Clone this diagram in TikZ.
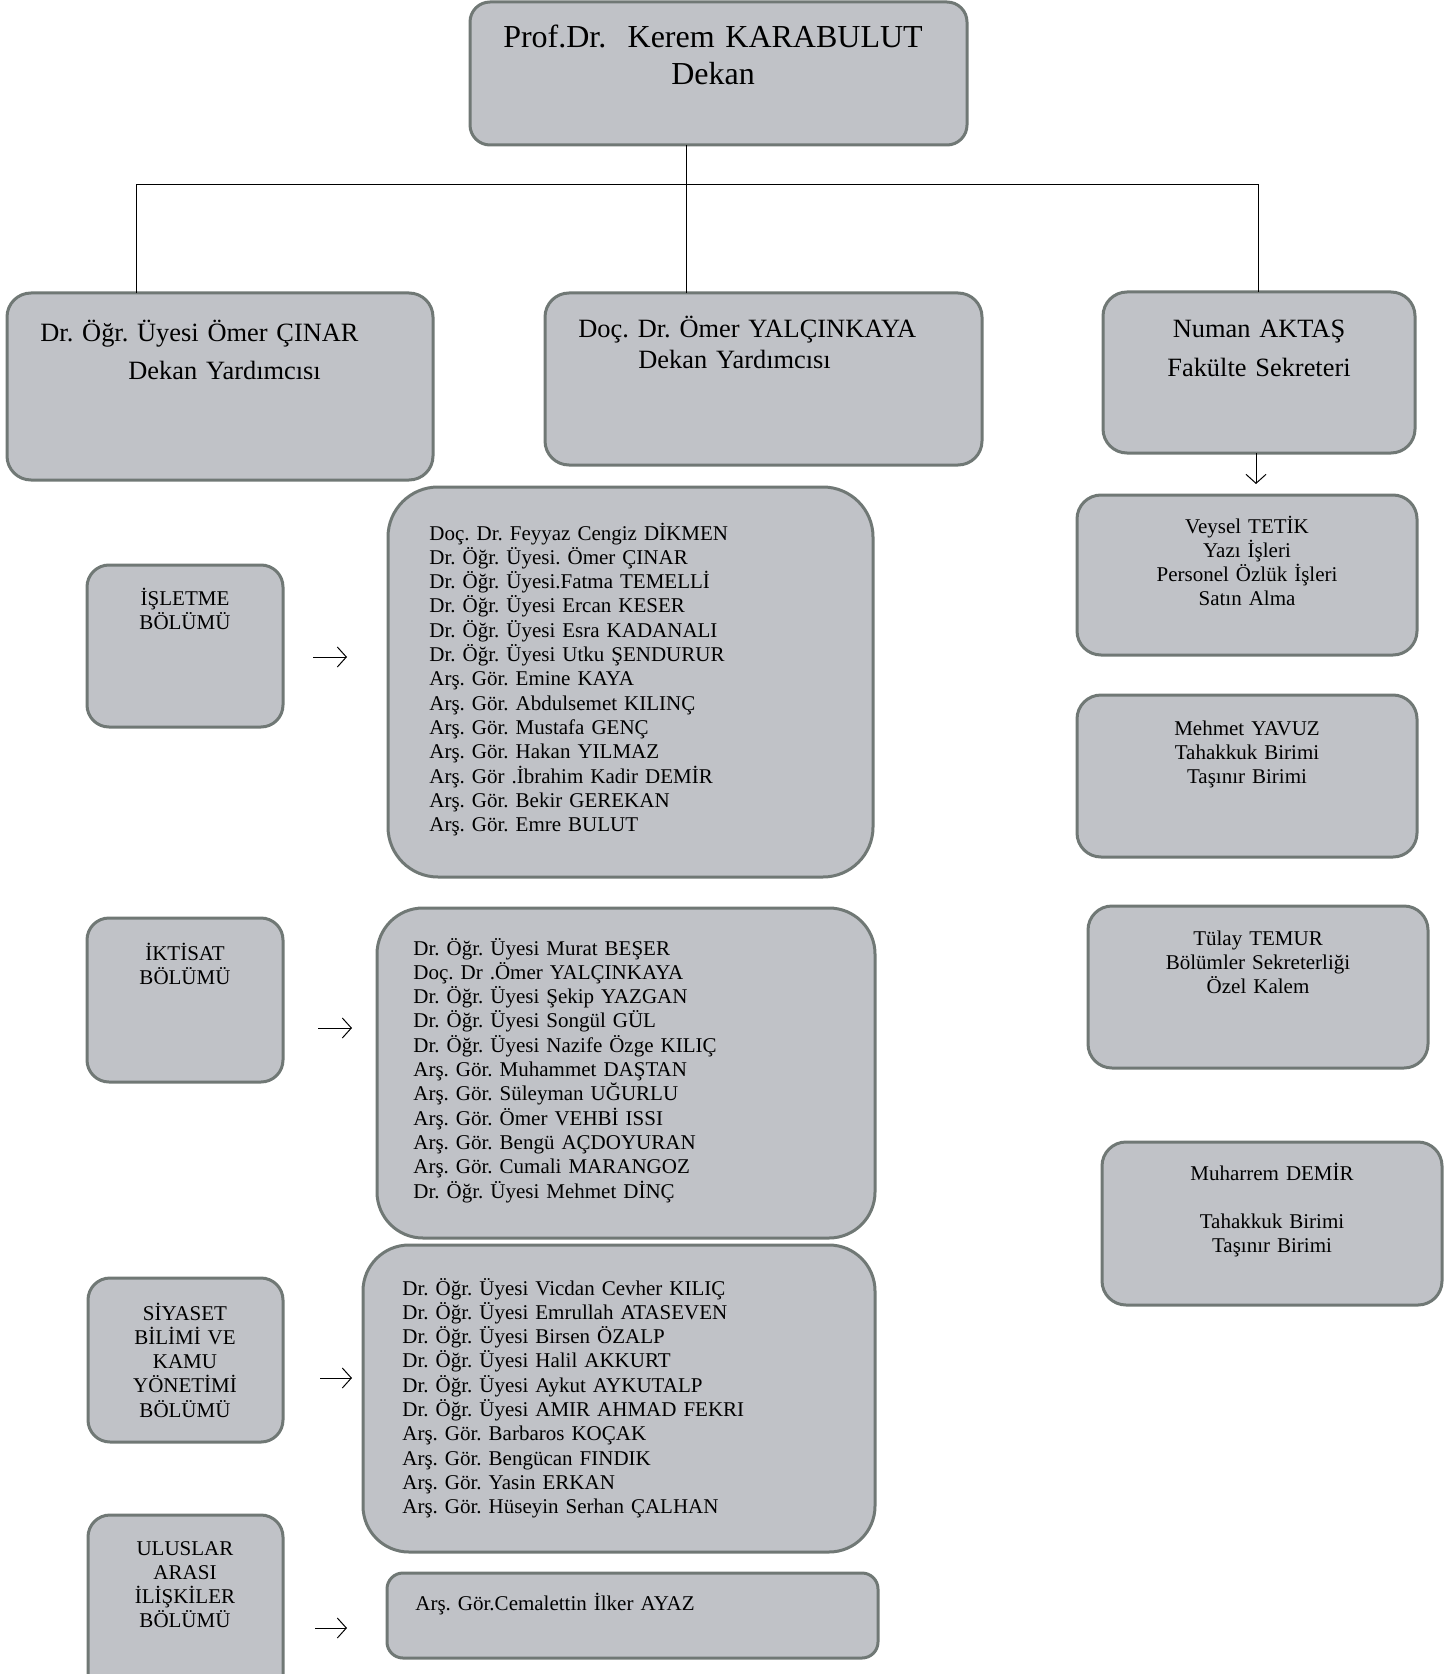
\documentclass[tikz,border=0pt]{standalone}
\usepackage{fontspec}
\setmainfont{Liberation Serif}
\usetikzlibrary{arrows.meta,calc}
\definecolor{bxfill}{RGB}{192,194,199}
\definecolor{bxline}{RGB}{112,120,117}
\newcommand\mkbox[6]{\node[box,#6,anchor=north west,minimum width={(#3-#1)*0.5pt},minimum height={(#4-#2)*0.5pt}] (#5) at (#1,#2) {};}
\frenchspacing
\begin{document}
\frenchspacing
\begin{tikzpicture}[x=0.5pt,y=-0.5pt,
  box/.style={draw=bxline, fill=bxfill, line width=1.5pt, inner sep=0pt, outer sep=0pt},
  lst/.style={font=\fontsize{10.5}{12.15}\selectfont\frenchspacing, align=left, anchor=base west, inner sep=0pt, text width=260pt},
  ctr/.style={font=\fontsize{10.5}{12.15}\selectfont\frenchspacing, align=center, anchor=base, inner sep=0pt, text width=170pt},
  conn/.style={line width=0.5pt, black},
  arr/.style={conn, -{Straight Barb[length=4.5pt,width=10pt]}}]
\useasboundingbox (0,0) rectangle (1450,1674);

\coordinate (jl) at (136,185);
\coordinate (jm) at (686,185);
\coordinate (jr) at (1258,185);

% boxes
\mkbox{470}{2}{967}{145}{dean}{rounded corners=10pt}
\mkbox{7}{293}{433}{480}{lft}{rounded corners=12pt}
\mkbox{545}{293}{982}{465}{mid}{rounded corners=12pt}
\mkbox{1103}{292}{1415}{453}{rgt}{rounded corners=12pt}
\mkbox{1077}{495}{1417}{655}{veysel}{rounded corners=12pt}
\mkbox{1077}{695}{1417}{857}{mehmet}{rounded corners=12pt}
\mkbox{1088}{906}{1428}{1068}{tulay}{rounded corners=12pt}
\mkbox{1102}{1142}{1442}{1305}{muharrem}{rounded corners=12pt}
\mkbox{87}{565}{283}{727}{isl}{rounded corners=11pt}
\mkbox{87}{918}{283}{1082}{ikt}{rounded corners=11pt}
\mkbox{88}{1278}{283}{1442}{siy}{rounded corners=11pt}
\mkbox{88}{1515}{283}{1700}{ulu}{rounded corners=11pt}
\mkbox{388}{487}{873}{877}{isllist}{rounded corners=25pt}
\mkbox{377}{908}{875}{1238}{iktlist}{rounded corners=23pt}
\mkbox{363}{1245}{875}{1552}{siylist}{rounded corners=23pt}
\mkbox{387}{1573}{878}{1658}{ululist}{rounded corners=8pt}

\draw[conn] (jm |- dean.south) -- (jm |- mid.north);
\draw[conn] (jl |- lft.north) -- (jl) -- (jr) -- (jr |- rgt.north);

% texts
\node[font=\fontsize{16}{18.5}\selectfont\frenchspacing, align=center, text width=260pt, anchor=base, inner sep=0pt] (deant) at (713,48) {Prof.Dr.\ \ Kerem KARABULUT\\Dekan};
\node[font=\fontsize{13.2}{19}\selectfont\frenchspacing, align=left, text width=220pt, anchor=base west, inner sep=0pt] (lftt) at (40,342) {Dr. Öğr. Üyesi Ömer ÇINAR\\\hspace*{44pt}Dekan Yardımcısı};
\node[font=\fontsize{13.2}{15}\selectfont\frenchspacing, align=left, text width=220pt, anchor=base west, inner sep=0pt] (midt) at (578,338) {Doç. Dr. Ömer YALÇINKAYA\\\hspace*{30pt}Dekan Yardımcısı};
\node[font=\fontsize{13.2}{19.5}\selectfont\frenchspacing, align=center, text width=150pt, anchor=base, inner sep=0pt] (rgtt) at (1259,338) {Numan AKTAŞ\\Fakülte Sekreteri};

\node[ctr] (veyselt) at (1247,533) {Veysel TETİK\\Yazı İşleri\\Personel Özlük İşleri\\Satın Alma};
\node[ctr] (mehmett) at (1247,735) {Mehmet YAVUZ\\Tahakkuk Birimi\\Taşınır Birimi};
\node[ctr] (tulayt) at (1258,945) {Tülay TEMUR\\Bölümler Sekreterliği\\Özel Kalem};
\node[ctr] (muharremt) at (1272,1180) {Muharrem DEMİR\\[12.15pt]Tahakkuk Birimi\\Taşınır Birimi};

\node[ctr, text width=90pt] (islt) at (185,605) {İŞLETME\\BÖLÜMÜ};
\node[ctr, text width=90pt] (iktt) at (185,960) {İKTİSAT\\BÖLÜMÜ};
\node[ctr, text width=90pt] (siyt) at (185,1320) {SİYASET\\BİLİMİ VE\\KAMU\\YÖNETİMİ\\BÖLÜMÜ};
\node[ctr, text width=90pt] (ulut) at (185,1555) {ULUSLAR\\ARASI\\İLİŞKİLER\\BÖLÜMÜ};

\node[lst] (islliste) at (429,540) {Doç. Dr. Feyyaz Cengiz DİKMEN\\Dr. Öğr. Üyesi. Ömer ÇINAR\\Dr. Öğr. Üyesi.Fatma TEMELLİ\\Dr. Öğr. Üyesi Ercan KESER\\Dr. Öğr. Üyesi Esra KADANALI\\Dr. Öğr. Üyesi Utku ŞENDURUR\\Arş. Gör. Emine KAYA\\Arş. Gör. Abdulsemet KILINÇ\\Arş. Gör. Mustafa GENÇ\\Arş. Gör. Hakan YILMAZ\\Arş. Gör .İbrahim Kadir DEMİR\\Arş. Gör. Bekir GEREKAN\\Arş. Gör. Emre BULUT};
\node[lst] (iktliste) at (413,955) {Dr. Öğr. Üyesi Murat BEŞER\\Doç. Dr .Ömer YALÇINKAYA\\Dr. Öğr. Üyesi Şekip YAZGAN\\Dr. Öğr. Üyesi Songül GÜL\\Dr. Öğr. Üyesi Nazife Özge KILIÇ\\Arş. Gör. Muhammet DAŞTAN\\Arş. Gör. Süleyman UĞURLU\\Arş. Gör. Ömer VEHBİ ISSI\\Arş. Gör. Bengü AÇDOYURAN\\Arş. Gör. Cumali MARANGOZ\\Dr. Öğr. Üyesi Mehmet DİNÇ};
\node[lst] (siyliste) at (402,1295) {Dr. Öğr. Üyesi Vicdan Cevher KILIÇ\\Dr. Öğr. Üyesi Emrullah ATASEVEN\\Dr. Öğr. Üyesi Birsen ÖZALP\\Dr. Öğr. Üyesi Halil AKKURT\\Dr. Öğr. Üyesi Aykut AYKUTALP\\Dr. Öğr. Üyesi AMIR AHMAD FEKRI\\Arş. Gör. Barbaros KOÇAK\\Arş. Gör. Bengücan FINDIK\\Arş. Gör. Yasin ERKAN\\Arş. Gör. Hüseyin Serhan ÇALHAN};
\node[lst] (ululiste) at (415,1610) {Arş. Gör.Cemalettin İlker AYAZ};

% arrows
\coordinate (na) at (1256,484);
\draw[arr] (na |- rgt.south) -- (na);
\coordinate (a1s) at (313,657);  \coordinate (a1e) at (347,657);
\coordinate (a2s) at (318,1028); \coordinate (a2e) at (352,1028);
\coordinate (a3s) at (320,1378); \coordinate (a3e) at (352,1378);
\coordinate (a4s) at (315,1628); \coordinate (a4e) at (347,1628);
\draw[arr] (a1s) -- (a1e);
\draw[arr] (a2s) -- (a2e);
\draw[arr] (a3s) -- (a3e);
\draw[arr] (a4s) -- (a4e);
\end{tikzpicture}
\end{document}
